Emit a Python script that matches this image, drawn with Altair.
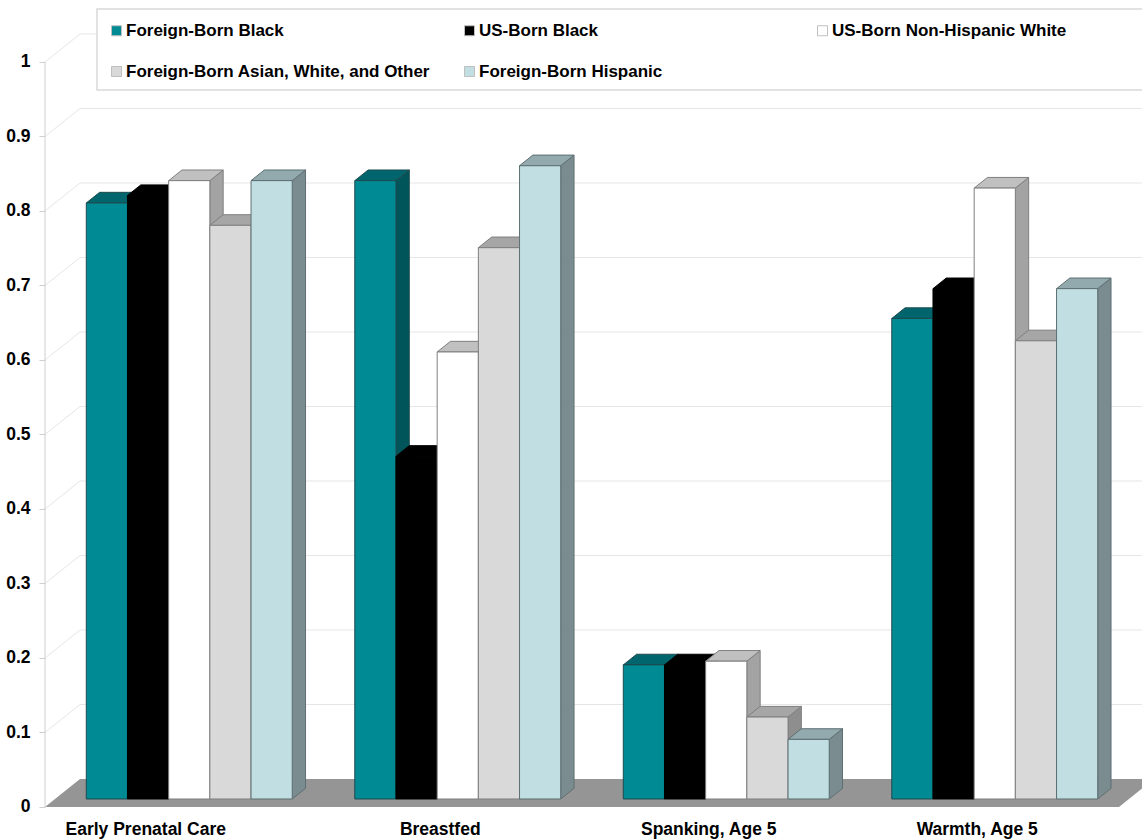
import json
import altair as alt
import pandas as pd

# ---------------- data ----------------
categories = ["Early Prenatal Care", "Breastfed", "Spanking, Age 5", "Warmth, Age 5"]
series = [
    "Foreign-Born Black",
    "US-Born Black",
    "US-Born Non-Hispanic White",
    "Foreign-Born Asian, White, and Other",
    "Foreign-Born Hispanic",
]
foreign_born_black = [0.80, 0.83, 0.18, 0.645]
us_born_black = [0.81, 0.46, 0.18, 0.685]
us_born_nh_white = [0.83, 0.60, 0.185, 0.82]
foreign_born_asian_white_other = [0.77, 0.74, 0.11, 0.615]
foreign_born_hispanic = [0.83, 0.85, 0.08, 0.685]
y_ticks = [0, 0.1, 0.2, 0.3, 0.4, 0.5, 0.6, 0.7, 0.8, 0.9, 1]

values = [
    foreign_born_black,
    us_born_black,
    us_born_nh_white,
    foreign_born_asian_white_other,
    foreign_born_hispanic,
]

# ---------------- styles ----------------
front_colors = ["#008A94", "#000000", "#FFFFFF", "#D9D9D9", "#C1DEE3"]
top_colors = ["#00656C", "#000000", "#C0C0C0", "#A6A6A6", "#92A9AD"]
side_colors = ["#00555B", "#000000", "#A3A3A3", "#8E8E8E", "#7A8C8F"]
edge_colors = ["#1E4B4F", "#000000", "#7F7F7F", "#7F7F7F", "#5E6F72"]

FONT = "Liberation Sans"
PLOT_W, PLOT_H = 1097, 840
X_MAX = 4.0857              # x domain (category units)
Y_MIN, Y_MAX = -0.0443, 1.0832
KX, KY = 0.1304, 0.03758    # full floor depth, in data units
Z0, Z1 = 0.286, 0.666       # depth range occupied by the bars
GROUP_W = 0.767
BAR_W = GROUP_W / len(series)
ddx, ddy = (Z1 - Z0) * KX, (Z1 - Z0) * KY
n_cat = len(categories)

xscale = alt.Scale(domain=[0, X_MAX], nice=False, zero=False)
yscale = alt.Scale(domain=[Y_MIN, Y_MAX], nice=False, zero=False)

label_expr = f"{json.dumps(categories)}[floor(datum.value)]"

x_axis = alt.Axis(
    values=[i + 0.5 for i in range(n_cat)],
    labelExpr=label_expr,
    domain=False,
    ticks=False,
    grid=False,
    title=None,
    labelFlush=False,
    labelFont=FONT,
    labelFontSize=17.5,
    labelFontWeight="bold",
    labelColor="#000000",
    labelPadding=0,
    offset=-20,
    labelOffset=alt.condition("datum.value < 1", alt.value(-34), alt.value(-8)),
)

y_axis = alt.Axis(
    values=y_ticks,
    format="~g",
    domain=False,
    grid=False,
    title=None,
    tickSize=6,
    tickColor="#CFCFCF",
    labelFont=FONT,
    labelFontSize=17.5,
    labelFontWeight="bold",
    labelColor="#000000",
    labelPadding=9,
)

# ---------------- geometry tables ----------------
front_rows, side_rows, top_rows = [], [], []
for ci, cat in enumerate(categories):
    for si, name in enumerate(series):
        v = values[si][ci]
        bid = f"{ci}-{si}"
        xl = ci + 0.5 - GROUP_W / 2 + si * BAR_W + Z0 * KX
        xr = xl + BAR_W
        yb = Z0 * KY
        yt = v + Z0 * KY
        front_rows.append(dict(series=name, x=xl, x2=xr, y=yb, y2=yt,
                               edge=edge_colors[si], cat=cat, value=v))
        side_rows.append(dict(id=bid, x=xr, ylo=yb, yhi=yt,
                              fill=side_colors[si], edge=edge_colors[si]))
        side_rows.append(dict(id=bid, x=xr + ddx, ylo=yb + ddy, yhi=yt + ddy,
                              fill=side_colors[si], edge=edge_colors[si]))
        top_rows.append(dict(id=bid, y=yt, xa=xl, xb=xr,
                             fill=top_colors[si], edge=edge_colors[si]))
        top_rows.append(dict(id=bid, y=yt + ddy, xa=xl + ddx, xb=xr + ddx,
                             fill=top_colors[si], edge=edge_colors[si]))

front_df = pd.DataFrame(front_rows)
side_df = pd.DataFrame(side_rows)
top_df = pd.DataFrame(top_rows)

floor_df = pd.DataFrame([
    dict(y=0.0, xa=0.0, xb=float(n_cat)),
    dict(y=KY, xa=KX, xb=n_cat + KX),
])

grid_rows = []
for t in y_ticks[1:]:
    grid_rows.append(dict(t=t, k=0, x=0.0, y=t))
    grid_rows.append(dict(t=t, k=1, x=KX, y=t + KY))
    grid_rows.append(dict(t=t, k=2, x=X_MAX, y=t + KY))
grid_df = pd.DataFrame(grid_rows)

axis_df = pd.DataFrame([dict(x=0.0, y=min(y_ticks), y2=max(y_ticks))])
frame_df = pd.DataFrame([dict(k=0)])

# ---------------- layers ----------------
floor = alt.Chart(floor_df).mark_area(orient="horizontal", color="#959595").encode(
    y=alt.Y("y:Q", scale=yscale, axis=y_axis),
    x=alt.X("xa:Q", scale=xscale, axis=x_axis),
    x2="xb:Q",
)

grid = alt.Chart(grid_df).mark_line(color="#E6E6E6", strokeWidth=1).encode(
    x=alt.X("x:Q", scale=xscale, axis=x_axis),
    y=alt.Y("y:Q", scale=yscale, axis=y_axis),
    detail="t:N",
    order="k:Q",
)

axis_line = alt.Chart(axis_df).mark_rule(color="#CFCFCF", strokeWidth=1).encode(
    x=alt.X("x:Q", scale=xscale, axis=x_axis),
    y=alt.Y("y:Q", scale=yscale, axis=y_axis),
    y2="y2:Q",
)

sides = alt.Chart(side_df).mark_area(orient="vertical", strokeWidth=1).encode(
    x=alt.X("x:Q", scale=xscale, axis=x_axis),
    y=alt.Y("yhi:Q", scale=yscale, axis=y_axis),
    y2="ylo:Q",
    detail="id:N",
    fill=alt.Fill("fill:N", scale=None),
    stroke=alt.Stroke("edge:N", scale=None),
)

tops = alt.Chart(top_df).mark_area(orient="horizontal", strokeWidth=1).encode(
    y=alt.Y("y:Q", scale=yscale, axis=y_axis),
    x=alt.X("xa:Q", scale=xscale, axis=x_axis),
    x2="xb:Q",
    detail="id:N",
    fill=alt.Fill("fill:N", scale=None),
    stroke=alt.Stroke("edge:N", scale=None),
)

fronts = alt.Chart(front_df).mark_rect(strokeWidth=1).encode(
    x=alt.X("x:Q", scale=xscale, axis=x_axis),
    x2="x2:Q",
    y=alt.Y("y:Q", scale=yscale, axis=y_axis),
    y2="y2:Q",
    color=alt.Color(
        "series:N",
        scale=alt.Scale(domain=series, range=front_colors),
        legend=alt.Legend(
            title=None,
            orient="none",
            legendX=50,
            legendY=9,
            direction="horizontal",
            columns=3,
            gridAlign="all",
            columnPadding=30,
            rowPadding=23,
            symbolType="square",
            symbolSize=100,
            symbolStrokeColor="#BFBFBF",
            symbolStrokeWidth=1,
            labelFont=FONT,
            labelFontSize=17,
            labelFontWeight="bold",
            labelColor="#000000",
            labelLimit=0,
            labelOffset=1,
            padding=13,
        ),
    ),
    stroke=alt.Stroke("edge:N", scale=None),
)

# legend frame (runs off the right edge, as in the original)
legend_frame = alt.Chart(frame_df).mark_rect(
    fill="#FFFFFF", stroke="#D9D9D9", strokeWidth=1.5
).encode(
    x=alt.value(52), x2=alt.value(1115), y=alt.value(9), y2=alt.value(90)
)

chart = (
    alt.layer(floor, grid, axis_line, sides, tops, fronts, legend_frame)
    .properties(
        width=PLOT_W,
        height=PLOT_H,
        autosize="none",
        padding={"left": 45, "top": 0, "right": 0, "bottom": 0},
        background="#FFFFFF",
    )
    .configure_view(stroke=None)
)

chart.save("out.html", embed_options={"renderer": "svg", "actions": False})
